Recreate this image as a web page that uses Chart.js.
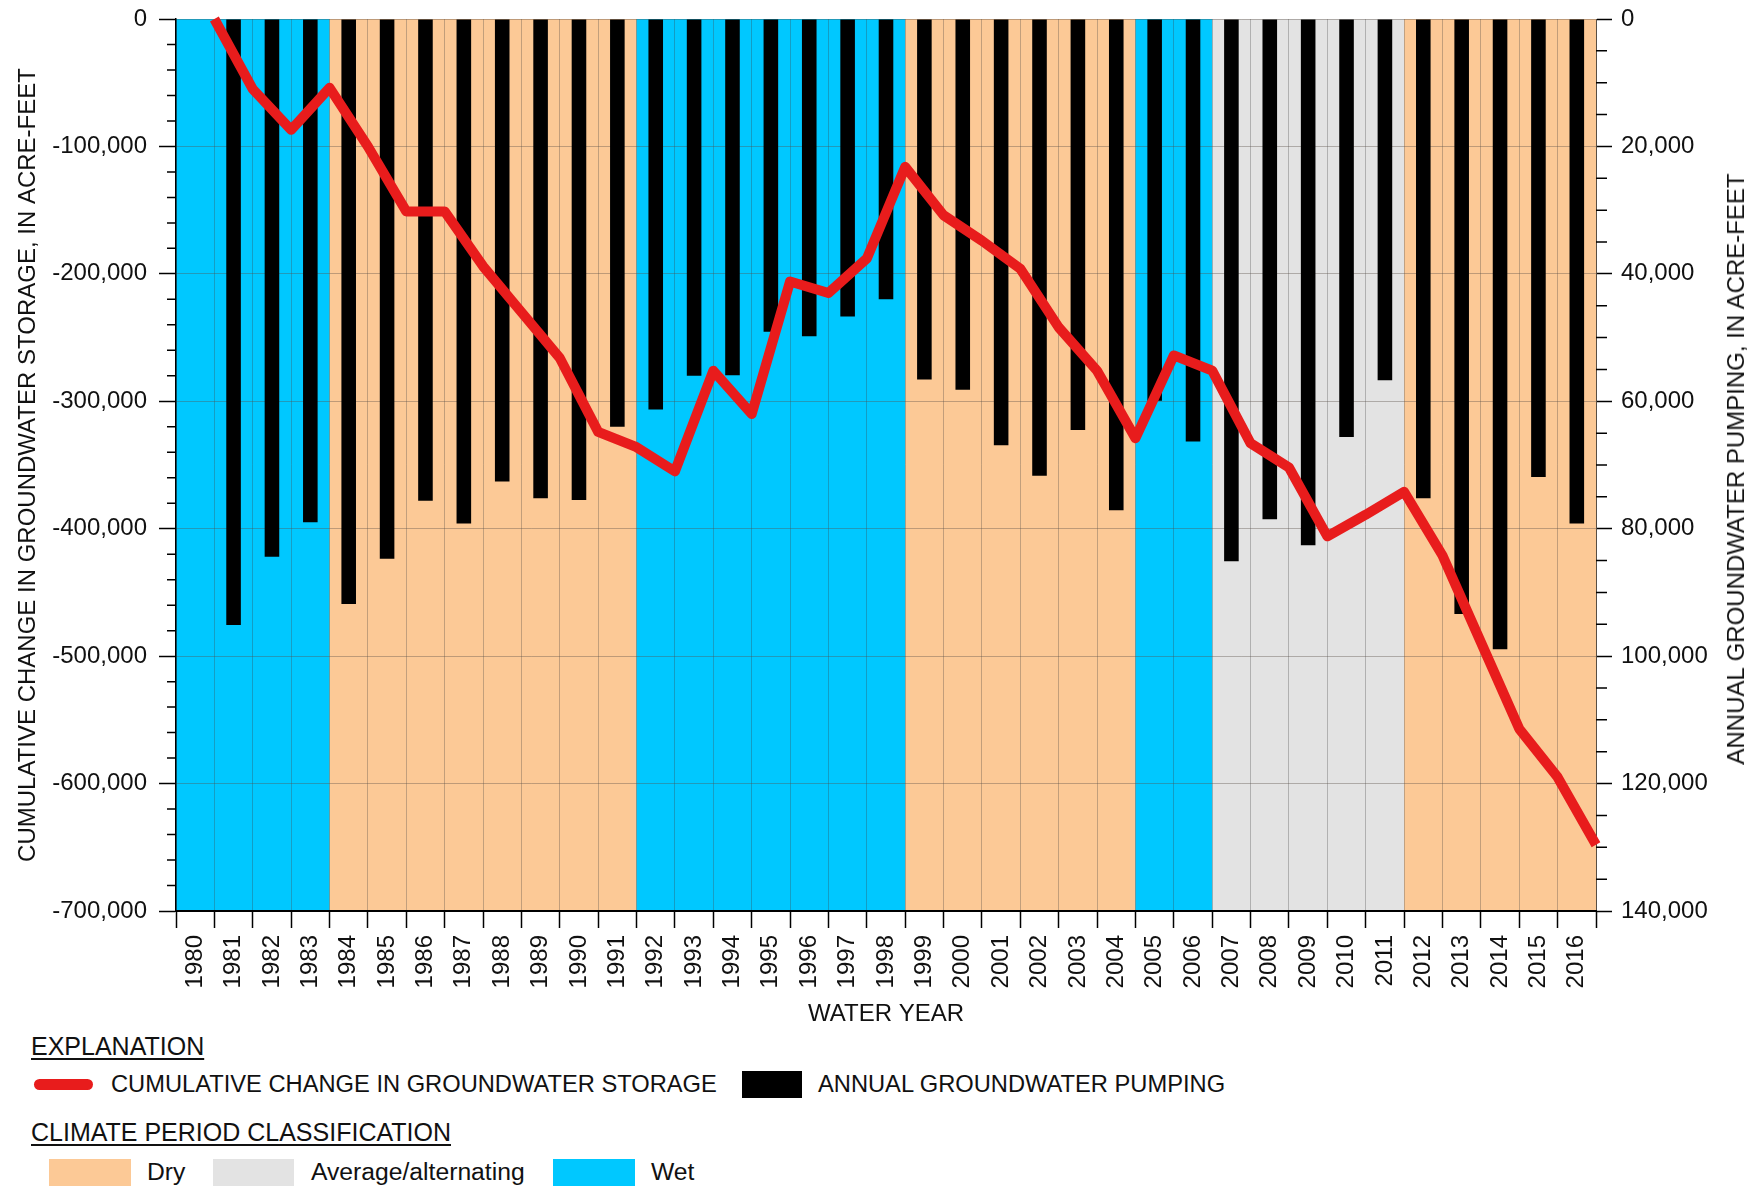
<!DOCTYPE html>
<html>
<head>
<meta charset="utf-8">
<script src="https://cdn.jsdelivr.net/npm/chart.js@4.4.1/dist/chart.umd.min.js"></script>
<style>
  body { margin: 0; width: 1762px; height: 1186px; overflow: hidden; background: #fff; position: relative;
         font-family: "Liberation Sans", Arial, sans-serif; color: #111; }
  #wrap { position: absolute; left: 0; top: 0; width: 1762px; height: 1030px; }
  .txt { position: absolute; font-size: 23.7px; line-height: 28px; white-space: nowrap; }
  .head { font-size: 25px; text-decoration: underline; text-underline-offset: 3px; text-decoration-thickness: 2px; }
  .cls { font-size: 24.7px; }
  .sw { position: absolute; }
  #rtitle { position: absolute; left: 1736px; top: 469px; font-size: 24px; white-space: nowrap;
            transform: translate(-50%, -50%) rotate(-90deg); }
</style>
</head>
<body>
<div id="wrap"><canvas id="chart" width="1762" height="1030"></canvas></div>
<div id="rtitle">ANNUAL GROUNDWATER PUMPING, IN ACRE-FEET</div>

<div class="txt head" style="left:31px; top:1032px;">EXPLANATION</div>
<div class="sw" id="swLine" style="left:34px; top:1079px; width:59px; height:11px; border-radius:6px;"></div>
<div class="txt" style="left:111px; top:1070px;">CUMULATIVE CHANGE IN GROUNDWATER STORAGE</div>
<div class="sw" id="swBar" style="left:742px; top:1071px; width:60px; height:27px;"></div>
<div class="txt" style="left:818px; top:1070px;">ANNUAL GROUNDWATER PUMPING</div>

<div class="txt head" style="left:31px; top:1118px;">CLIMATE PERIOD CLASSIFICATION</div>
<div class="sw" id="swDry" style="left:49px; top:1159px; width:82px; height:30px;"></div>
<div class="txt cls" style="left:147px; top:1158px;">Dry</div>
<div class="sw" id="swAvg" style="left:213px; top:1159px; width:81px; height:30px;"></div>
<div class="txt cls" style="left:311px; top:1158px;">Average/alternating</div>
<div class="sw" id="swWet" style="left:553px; top:1159px; width:82px; height:30px;"></div>
<div class="txt cls" style="left:651px; top:1158px;">Wet</div>

<script>
'use strict';

// water years on the x axis
var years = [1980, 1981, 1982, 1983, 1984, 1985, 1986, 1987, 1988, 1989,
    1990, 1991, 1992, 1993, 1994, 1995, 1996, 1997, 1998, 1999,
    2000, 2001, 2002, 2003, 2004, 2005, 2006, 2007, 2008, 2009,
    2010, 2011, 2012, 2013, 2014, 2015, 2016];

// climate period of each water year
var climate = ['wet', 'wet', 'wet', 'wet',
    'dry', 'dry', 'dry', 'dry', 'dry', 'dry', 'dry', 'dry',
    'wet', 'wet', 'wet', 'wet', 'wet', 'wet', 'wet',
    'dry', 'dry', 'dry', 'dry', 'dry', 'dry',
    'wet', 'wet',
    'avg', 'avg', 'avg', 'avg', 'avg',
    'dry', 'dry', 'dry', 'dry', 'dry'];

// annual groundwater pumping, acre-feet (right axis)
var pumping = [null, 95100, 84400, 79000, 91800, 84700, 75600, 79200, 72600, 75200,
    75500, 64000, 61300, 56000, 55900, 49100, 49800, 46700, 44000, 56600,
    58200, 66900, 71700, 64500, 77100, 59900, 66300, 85100, 78500, 82600,
    65600, 56700, 75200, 93400, 98900, 71900, 79200];

// cumulative change in storage at the end of each water year, acre-feet (left axis)
var storage = [0, -55000, -87000, -54000, -100000, -151000, -151000, -194000, -230000, -266000,
    -324000, -336000, -355000, -276000, -310000, -206000, -215000, -188000, -116000, -154000,
    -174000, -196000, -242000, -276000, -329000, -264000, -276000, -333000, -352000, -406000,
    -389000, -371000, -421000, -489000, -557000, -595000, -648000];

// axis tick settings
var storageMajor = 100000, storageMinor = 20000;
var pumpingMajor = 20000, pumpingMinor = 5000;

var climateColors = { dry: '#fcc996', avg: '#e3e3e3', wet: '#00c8ff' };
var lineRed = '#e81c1c';
var fontFamily = '"Liberation Sans", Arial, sans-serif';

document.getElementById('swLine').style.background = lineRed;
document.getElementById('swBar').style.background = '#000';
document.getElementById('swDry').style.background = climateColors.dry;
document.getElementById('swAvg').style.background = climateColors.avg;
document.getElementById('swWet').style.background = climateColors.wet;

var fmt = function(v) { return Number(v).toLocaleString('en-US'); };

// colored climate columns behind the grid
var climateBands = {
    id: 'climateBands',
    beforeDraw: function(chart) {
        var ctx = chart.ctx, x = chart.scales.x, area = chart.chartArea;
        var half = (x.getPixelForValue(1) - x.getPixelForValue(0)) / 2;
        ctx.save();
        years.forEach(function(yr, i) {
            var cx = x.getPixelForValue(i);
            ctx.fillStyle = climateColors[climate[i]];
            ctx.fillRect(cx - half, area.top, half * 2 + 0.6, area.bottom - area.top);
        });
        ctx.restore();
    }
};

// short minor tick marks on both value axes
var minorTicks = {
    id: 'minorTicks',
    afterDraw: function(chart) {
        var ctx = chart.ctx, yL = chart.scales.y, yR = chart.scales.yR, area = chart.chartArea;
        ctx.save();
        ctx.strokeStyle = '#000';
        ctx.lineWidth = 1.5;
        ctx.beginPath();
        for (var v = yL.max; v >= yL.min; v -= storageMinor) {
            if (v % storageMajor === 0) continue;
            var py = yL.getPixelForValue(v);
            ctx.moveTo(area.left - 9, py);
            ctx.lineTo(area.left, py);
        }
        for (var w = yR.min; w <= yR.max; w += pumpingMinor) {
            if (w % pumpingMajor === 0) continue;
            var qy = yR.getPixelForValue(w);
            ctx.moveTo(area.right, qy);
            ctx.lineTo(area.right + 11, qy);
        }
        ctx.stroke();
        ctx.restore();
    }
};

var tickFont = { family: fontFamily, size: 24 };

var options = {
    responsive: false,
    animation: false,
    devicePixelRatio: 1,
    layout: { padding: { top: 19, left: 0, right: 0, bottom: 0 } },
    plugins: {
        legend: { display: false },
        tooltip: { enabled: false }
    },
    scales: {
        x: {
            type: 'category',
            offset: true,
            grid: {
                offset: true,
                color: 'rgba(60,60,60,0.3)',
                lineWidth: 1,
                tickColor: '#000',
                tickLength: 17,
                tickWidth: 1.5
            },
            border: { color: '#000', width: 2 },
            ticks: {
                color: '#111',
                font: tickFont,
                padding: 7,
                minRotation: 90,
                maxRotation: 90,
                autoSkip: false
            },
            title: {
                display: true,
                text: 'WATER YEAR',
                color: '#111',
                font: tickFont,
                padding: { top: 0, bottom: 1.5 }
            },
            afterFit: function(scale) { scale.height = 119; }
        },
        // hidden time axis: each storage value sits at the end of its water year
        xT: {
            type: 'linear',
            display: false,
            offset: false,
            bounds: 'data',
            min: years[0],
            max: years[years.length - 1] + 1,
            ticks: { stepSize: 1 },
            grid: { offset: false }
        },
        y: {
            type: 'linear',
            position: 'left',
            min: -700000,
            max: 0,
            ticks: {
                stepSize: storageMajor,
                color: '#111',
                font: tickFont,
                padding: 12,
                callback: fmt
            },
            grid: {
                color: 'rgba(90,80,70,0.38)',
                lineWidth: 1,
                tickColor: '#000',
                tickLength: 17,
                tickWidth: 1.5
            },
            border: { color: '#000', width: 1.5 },
            title: {
                display: true,
                text: 'CUMULATIVE CHANGE IN GROUNDWATER STORAGE, IN ACRE-FEET',
                color: '#111',
                font: tickFont,
                padding: { top: 14, bottom: 0 }
            },
            afterFit: function(scale) {
                scale.width = 176;
                scale.paddingTop = 0;
                scale.paddingBottom = 0;
            }
        },
        yR: {
            type: 'linear',
            position: 'right',
            reverse: true,
            min: 0,
            max: 140000,
            ticks: {
                stepSize: pumpingMajor,
                color: '#111',
                font: tickFont,
                padding: 9,
                callback: fmt
            },
            grid: {
                drawOnChartArea: false,
                tickColor: '#000',
                tickLength: 16,
                tickWidth: 1.5
            },
            border: { color: 'rgba(0,0,0,0.55)', width: 1 },
            afterFit: function(scale) {
                scale.width = 166;
                scale.paddingTop = 0;
                scale.paddingBottom = 0;
            }
        }
    }
};

var data = {
    labels: years.map(String),
    datasets: [{
        type: 'line',
        label: 'Cumulative change in groundwater storage',
        data: years.map(function(yr, i) { return { x: yr + 1, y: storage[i] }; }),
        xAxisID: 'xT',
        yAxisID: 'y',
        borderColor: lineRed,
        borderWidth: 10,
        borderJoinStyle: 'round',
        borderCapStyle: 'butt',
        pointRadius: 0,
        tension: 0,
        fill: false,
        order: 0,
        clip: 10
    }, {
        type: 'bar',
        label: 'Annual groundwater pumping',
        data: pumping,
        xAxisID: 'x',
        yAxisID: 'yR',
        backgroundColor: '#000',
        categoryPercentage: 1,
        barPercentage: 0.38,
        grouped: false,
        order: 1
    }]
};

var chart = new Chart(document.getElementById('chart'), {
    type: 'bar',
    data: data,
    options: options,
    plugins: [climateBands, minorTicks]
});
</script>
</body>
</html>
